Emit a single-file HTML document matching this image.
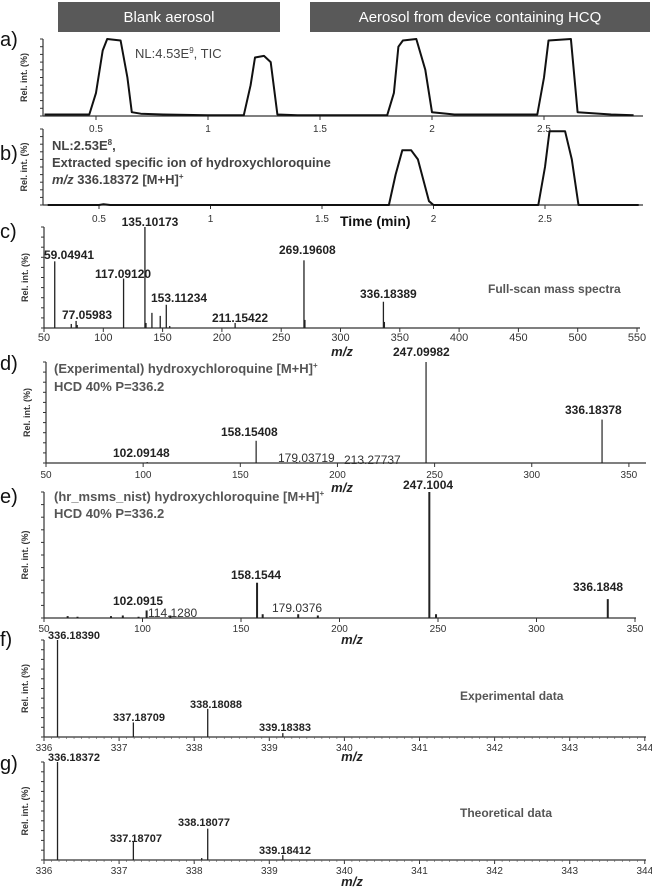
<!DOCTYPE html>
<html><head><meta charset="utf-8"><style>
body{margin:0;background:#fff}
svg{display:block;font-family:"Liberation Sans",sans-serif}
</style></head><body>
<svg id="fig" width="652" height="889" viewBox="0 0 652 889">
<rect x="58" y="2" width="222" height="30" fill="#595959"/>
<text x="169" y="22" fill="#fff" font-size="15" text-anchor="middle">Blank aerosol</text>
<rect x="310" y="2" width="340" height="30" fill="#595959"/>
<text x="480" y="22" fill="#fff" font-size="15" text-anchor="middle">Aerosol from device containing HCQ</text>
</svg>
<script>
// ---- chromatogram data ----
const tracATimes=[0.27,0.47,0.5,0.53,0.55,0.61,0.64,0.66,0.7,0.8,1.0,1.16,1.19,1.21,1.25,1.28,1.31,1.4,1.8,1.83,1.85,1.87,1.93,1.97,2.0,2.1,2.47,2.5,2.52,2.62,2.65,2.8,2.9];
const tracAValues=[0.02,0.02,0.3,0.85,1.0,0.98,0.5,0.05,0.03,0.02,0.01,0.01,0.4,0.76,0.78,0.7,0.02,0.01,0.01,0.3,0.9,0.98,1.0,0.6,0.05,0.02,0.02,0.5,0.98,1.0,0.05,0.02,0.01];
const tracBTimes=[0.27,0.5,0.52,0.55,1.8,1.83,1.86,1.9,1.93,1.98,2.0,2.47,2.5,2.52,2.59,2.62,2.65,2.92];
const tracBValues=[0,0,0.01,0,0,0.4,0.72,0.72,0.6,0.05,0,0,0.5,0.97,0.97,0.6,0,0];
const timeTicks=[0.5,1,1.5,2,2.5];
// ---- spectrum c ----
const cMz=[59.05,73,77.06,78,117.09,135.10,136,141,148,153.11,156,211.15,269.20,270,336.18,337];
const cInt=[0.66,0.04,0.07,0.03,0.49,1.0,0.05,0.15,0.12,0.23,0.02,0.05,0.67,0.08,0.26,0.06];
const cTicks=[50,100,150,200,250,300,350,400,450,500,550];
// ---- spectrum d ----
const dMz=[102.09,158.15,179.04,213.28,245.6,336.18];
const dInt=[0.01,0.22,0.01,0.01,1.0,0.43];
// ---- spectrum e ----
const eMz=[62,67,84,90,98,102.09,114.13,158.15,161,179.04,189,245.6,249,336.18];
const eInt=[0.015,0.01,0.015,0.02,0.01,0.06,0.02,0.28,0.03,0.03,0.02,1.0,0.03,0.15];
const msmsTicks=[50,100,150,200,250,300,350];
// ---- isotope f,g ----
const fMz=[336.18,337.19,338.18,339.18];
const fInt=[1.0,0.15,0.29,0.04];
const gMz=[336.18,337.19,338.1,338.18,339.18];
const gInt=[1.0,0.19,0.02,0.32,0.05];
const isoTicks=[336,337,338,339,340,341,342,343,344];

const svg=document.getElementById('fig');
const NS='http://www.w3.org/2000/svg';
function mk(tag,attrs,parent){const e=document.createElementNS(NS,tag);for(const k in attrs)e.setAttribute(k,attrs[k]);(parent||svg).appendChild(e);return e;}
function txt(x,y,s,size,opts){const o=opts||{};const t=mk('text',{x:x,y:y,'font-size':size,fill:o.fill||'#222','font-weight':o.bold?'bold':'normal','text-anchor':o.anchor||'start','font-style':o.italic?'italic':'normal'});t.textContent=s;return t;}

function axes(name,x0,x1,yTop,yBase,ticks,xs,tickY,fs,minor){
  const g=mk('g',{});
  
  
  mk('line',{x1:x0,y1:yBase,x2:x1,y2:yBase,stroke:'#333','stroke-width':1.2},g);
  mk('line',{x1:x0,y1:yTop,x2:x0,y2:yBase,stroke:'#333','stroke-width':1.2},g);
  for(let i=0;i<=10;i++){const y=yBase-(yBase-yTop)*i/10;mk('line',{x1:x0-3,y1:y,x2:x0,y2:y,stroke:'#333'},g);}
  ticks.forEach(v=>{const x=xs(v);mk('line',{x1:x,y1:yBase,x2:x,y2:yBase+4,stroke:'#333'},g);
    const t=txt(x,tickY,String(v),fs,{fill:'#333',anchor:'middle'});g.appendChild(t);});
  if(minor){for(let v=ticks[0];v<=ticks[ticks.length-1];v+=minor){mk('line',{x1:xs(v),y1:yBase,x2:xs(v),y2:yBase+2,stroke:'#555','stroke-width':0.6},g);}}
  const yl=txt(0,0,'Rel. int. (%)',9,{bold:true,fill:'#333',anchor:'middle'});
  yl.setAttribute('transform','translate('+(x0-16)+','+((yTop+yBase)/2)+') rotate(-90)');
  
  
  g.appendChild(yl);
}
function letter(s,y){const t=txt(0,y,s,20,{fill:'#111'});
  
  }
function trace(name,times,vals,xs,ys){
  const p=mk('path',{d:times.map((t,i)=>(i?'L':'M')+xs(t).toFixed(1)+','+ys(vals[i]).toFixed(1)).join(''),fill:'none',stroke:'#111','stroke-width':2,'stroke-linejoin':'round'});
  
  
}
function sticks(name,mz,ints,xs,ys,w){
  mz.forEach((m,i)=>{const l=mk('line',{x1:xs(m),x2:xs(m),y1:ys(0),y2:ys(ints[i]),stroke:'#222','stroke-width':w});
    
    });
}
function lab(name,x,y,s,size,opts){const t=txt(x,y,s,size,opts);
  
  return t;}

// Panel a
const xa=t=>96+(t-0.5)*224, ya=v=>116-v*77;
letter('a)',46);
axes('panel-a',43,643,39,116,timeTicks,xa,132,10);
trace('tic-trace',tracATimes,tracAValues,xa,ya);
const na=lab('tic-annotation',135,58,'NL:4.53E',13,{fill:'#444'});
const sa=mk('tspan',{dy:-5,'font-size':8},na);sa.textContent='9';
const sb=mk('tspan',{dy:5},na);sb.textContent=', TIC';

// Panel b
const xb=t=>99+(t-0.5)*223, yb=v=>205-v*76;
letter('b)',160);
axes('panel-b',43,643,129,205,timeTicks,xb,222,10);
trace('hcq-ion-trace',tracBTimes,tracBValues,xb,yb);
const nb=lab('nl-annotation-b',52,150,'NL:2.53E',13,{fill:'#444',bold:true});
const nb1=mk('tspan',{dy:-5,'font-size':8},nb);nb1.textContent='8';
const nb2=mk('tspan',{dy:5},nb);nb2.textContent=',';
lab('extracted-ion-annotation',52,167,'Extracted specific ion of hydroxychloroquine',13,{fill:'#444',bold:true});
const mzb=lab('mz-annotation-b',52,184,'',13,{fill:'#444',bold:true});
const mzb1=mk('tspan',{'font-style':'italic'},mzb);mzb1.textContent='m/z';
const mzb2=mk('tspan',{},mzb);mzb2.textContent=' 336.18372 [M+H]';
const mzb3=mk('tspan',{dy:-5,'font-size':8},mzb);mzb3.textContent='+';
lab('time-axis-title',340,226,'Time (min)',14,{bold:true,fill:'#111'});

// Panel c
const xc=m=>44+(m-50)*1.186, yc=v=>328-v*101;
letter('c)',238);
axes('panel-c',44,640,227,328,cTicks,xc,341,11);
sticks('full-scan',cMz,cInt,xc,yc,1.3);
lab('c-x-axis-title',342,356,'m/z',13,{bold:true,italic:true,anchor:'middle'});
[['135.10173',150,226,'middle'],['59.04941',44,259],['117.09120',95,278],['269.19608',279,254],['336.18389',360,298],['153.11234',151,302],['77.05983',62,319],['211.15422',212,322]]
.forEach(a=>lab('c-label-'+a[0],a[1],a[2],a[0],12,{bold:true,anchor:a[3]||'start'}));
lab('full-scan-title',488,293,'Full-scan mass spectra',12,{bold:true,fill:'#555'});

// Panel d
const xd=m=>46+(m-50)*1.943, yd=v=>463-v*101;
letter('d)',370);
axes('panel-d',46,646,362,463,msmsTicks,xd,478,10);
sticks('experimental-msms',dMz,dInt,xd,yd,1.2);
lab('d-x-axis-title',342,492,'m/z',13,{bold:true,italic:true,anchor:'middle'});
const dt=lab('d-title',54,373,'(Experimental) hydroxychloroquine [M+H]',13,{fill:'#555',bold:true});
const dts=mk('tspan',{dy:-5,'font-size':8},dt);dts.textContent='+';
lab('d-conditions',54,391,'HCD 40%  P=336.2',13,{fill:'#555',bold:true});
[['247.09982',393,356],['336.18378',565,414],['158.15408',221,436],['102.09148',113,457]].forEach(a=>lab('d-label-'+a[0],a[1],a[2],a[0],12,{bold:true}));
lab('d-label-179',278,462,'179.03719',12,{fill:'#333'});
lab('d-label-213',344,464,'213.27737',12,{fill:'#333'});

// Panel e
const xe=m=>44+(m-50)*1.97, ye=v=>618-v*126;
letter('e)',503);
axes('panel-e',44,636,492,618,msmsTicks,xe,632,10);
sticks('nist-msms',eMz,eInt,xe,ye,2);
lab('e-x-axis-title',352,644,'m/z',13,{bold:true,italic:true,anchor:'middle'});
const et=lab('e-title',54,501,'(hr_msms_nist) hydroxychloroquine  [M+H]',13,{fill:'#555',bold:true});
const ets=mk('tspan',{dy:-5,'font-size':8},et);ets.textContent='+';
lab('e-conditions',54,518,'HCD  40%  P=336.2',13,{fill:'#555',bold:true});
[['247.1004',403,489],['158.1544',231,579],['336.1848',573,591],['102.0915',113,605]].forEach(a=>lab('e-label-'+a[0],a[1],a[2],a[0],12,{bold:true}));
lab('e-label-114',148,617,'114.1280',12,{fill:'#333'});
lab('e-label-179',272,612,'179.0376',12,{fill:'#333'});

// Panel f
const xf=m=>44+(m-336)*75.1, yf=v=>737-v*97;
letter('f)',646);
axes('panel-f',44,646,640,737,isoTicks,xf,751,10,0.1);
sticks('experimental-isotope',fMz,fInt,xf,yf,1.3);
lab('f-x-axis-title',352,761,'m/z',13,{bold:true,italic:true,anchor:'middle'});
[['336.18390',48,639],['337.18709',113,721],['338.18088',190,708],['339.18383',259,731]].forEach(a=>lab('f-label-'+a[0],a[1],a[2],a[0],11,{bold:true}));
lab('experimental-data-title',460,700,'Experimental data',12,{bold:true,fill:'#555'});

// Panel g
const yg=v=>860-v*98;
letter('g)',770);
axes('panel-g',44,646,762,860,isoTicks,xf,874,10,0.1);
sticks('theoretical-isotope',gMz,gInt,xf,yg,1.3);
lab('g-x-axis-title',352,886,'m/z',13,{bold:true,italic:true,anchor:'middle'});
[['336.18372',48,761],['337.18707',110,842],['338.18077',178,826],['339.18412',259,854]].forEach(a=>lab('g-label-'+a[0],a[1],a[2],a[0],11,{bold:true}));
lab('theoretical-data-title',460,817,'Theoretical data',12,{bold:true,fill:'#555'});
</script>
</body></html>
